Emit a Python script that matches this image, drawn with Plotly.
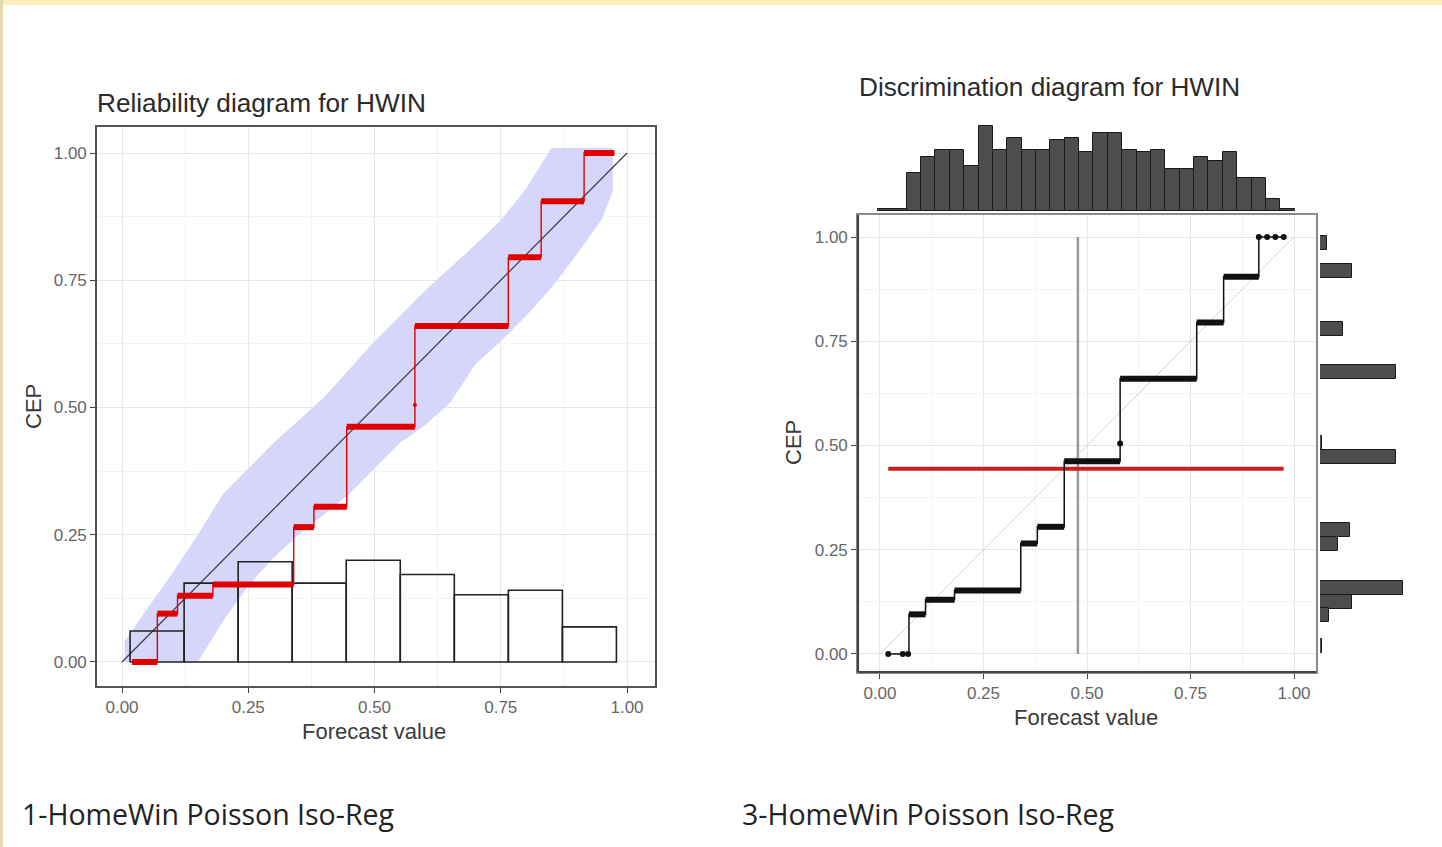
import plotly.graph_objects as go

W, H = 1442, 847

# ---------------- data ----------------
# isotonic-regression step function (forecast interval -> CEP)
step_start = [0.02, 0.07, 0.11, 0.18, 0.34, 0.38, 0.445, 0.58, 0.765, 0.83, 0.915]
step_end = [0.07, 0.11, 0.18, 0.34, 0.38, 0.445, 0.58, 0.765, 0.83, 0.915, 0.975]
step_cep = [0.0, 0.095, 0.13, 0.152, 0.265, 0.305, 0.462, 0.66, 0.795, 0.905, 1.0]
kink_x = [0.58]
kink_cep = [0.505]

# consistency band (left chart)
band_x = [0.005, 0.05, 0.10, 0.15, 0.20, 0.25, 0.30, 0.35, 0.40, 0.45, 0.50,
          0.55, 0.60, 0.65, 0.70, 0.75, 0.80, 0.85, 0.90, 0.95, 0.972]
band_upper = [0.04, 0.105, 0.175, 0.25, 0.33, 0.38, 0.43, 0.475, 0.52, 0.575, 0.63,
              0.68, 0.73, 0.775, 0.82, 0.868, 0.93, 1.01, 1.01, 1.01, 1.01]
band_lower = [0.0, 0.0, 0.0, 0.0, 0.08, 0.15, 0.205, 0.25, 0.29, 0.33, 0.38,
              0.43, 0.465, 0.51, 0.585, 0.63, 0.68, 0.735, 0.80, 0.87, 0.925]

# forecast histogram inside reliability diagram
rel_hist_centers = [0.0695, 0.1765, 0.2835, 0.3905, 0.4975, 0.6045, 0.7115, 0.8185, 0.9255]
rel_hist_width = 0.107
rel_hist_heights = [0.061, 0.155, 0.197, 0.155, 0.200, 0.172, 0.132, 0.141, 0.069]

identity = [0.0, 1.0]
base_rate = 0.444
mean_forecast = 0.478

# marginal histogram of forecasts (top)
top_hist_centers = [0.0125, 0.0472, 0.0819, 0.1166, 0.1513, 0.1860, 0.2207, 0.2554,
                    0.2901, 0.3248, 0.3595, 0.3942, 0.4289, 0.4636, 0.4983, 0.5330,
                    0.5677, 0.6024, 0.6371, 0.6718, 0.7065, 0.7412, 0.7759, 0.8106,
                    0.8453, 0.8800, 0.9147, 0.9494, 0.9841]
top_hist_width = 0.0347
top_hist_counts = [1, 1, 16, 23, 26, 26, 19, 36, 26, 31, 26, 26, 30, 31, 25,
                   33, 33, 26, 25, 26, 18, 18, 23, 21, 25, 14, 14, 5, 1]

# marginal histogram of CEP values (right)
right_hist_cep = [0.985, 0.918, 0.780, 0.676, 0.506, 0.472, 0.297, 0.264, 0.158, 0.125, 0.093, 0.020]
right_hist_counts = [3, 14, 10, 33, 1, 33, 13, 8, 36, 14, 4, 1]
right_hist_width = 0.034

# dots drawn individually in discrimination diagram
dots_zero_x = [0.02, 0.055, 0.068]
dots_one_x = [0.915, 0.935, 0.955, 0.975]

tick_vals = [0.0, 0.25, 0.5, 0.75, 1.0]
tick_text = ["0.00", "0.25", "0.50", "0.75", "1.00"]

# ---------------- build paths ----------------
thin_x, thin_y = [], []
for s, e, c in zip(step_start, step_end, step_cep):
    thin_x += [s, e]
    thin_y += [c, c]

thick_x, thick_y = [], []
for s, e, c in zip(step_start, step_end, step_cep):
    thick_x += [s, e, None]
    thick_y += [c, c, None]

mid_x, mid_y = [], []
for s, e, c in zip(step_start[1:-1], step_end[1:-1], step_cep[1:-1]):
    mid_x += [s, e, None]
    mid_y += [c, c, None]

# outline of histogram bars (drawn as lines so they sit above the band)
hist_x, hist_y = [], []
for c, h in zip(rel_hist_centers, rel_hist_heights):
    l, r = c - rel_hist_width / 2, c + rel_hist_width / 2
    hist_x += [l, l, r, r, l, None]
    hist_y += [0, h, h, 0, 0, None]

RED = "#E00000"
fig = go.Figure()

# ---- left: reliability diagram ----
fig.add_trace(go.Scatter(x=band_x + band_x[::-1], y=band_upper + band_lower[::-1],
                         fill="toself", fillcolor="rgb(214,214,250)", mode="none",
                         xaxis="x", yaxis="y", hoverinfo="skip"))
fig.add_trace(go.Scatter(x=identity, y=identity, mode="lines",
                         line=dict(color="#3a3a4a", width=1.2), xaxis="x", yaxis="y"))
fig.add_trace(go.Scatter(x=hist_x, y=hist_y, mode="lines",
                         line=dict(color="#222", width=1.6), xaxis="x", yaxis="y"))
fig.add_trace(go.Scatter(x=thin_x, y=thin_y, mode="lines",
                         line=dict(color=RED, width=1.4), xaxis="x", yaxis="y"))
fig.add_trace(go.Scatter(x=thick_x, y=thick_y, mode="lines",
                         line=dict(color=RED, width=6), xaxis="x", yaxis="y"))
fig.add_trace(go.Scatter(x=kink_x, y=kink_cep, mode="markers",
                         marker=dict(color=RED, size=4), xaxis="x", yaxis="y"))

# ---- right: discrimination diagram ----
fig.add_trace(go.Scatter(x=identity, y=identity, mode="lines",
                         line=dict(color="#d0d0d0", width=1), xaxis="x2", yaxis="y2"))
fig.add_trace(go.Scatter(x=[mean_forecast, mean_forecast], y=identity, mode="lines",
                         line=dict(color="#9a9a9a", width=2.5), xaxis="x2", yaxis="y2"))
fig.add_trace(go.Scatter(x=[step_start[0], step_end[-1]], y=[base_rate, base_rate], mode="lines",
                         line=dict(color="#C82020", width=4), xaxis="x2", yaxis="y2"))
fig.add_trace(go.Scatter(x=thin_x, y=thin_y, mode="lines",
                         line=dict(color="#111", width=1.5), xaxis="x2", yaxis="y2"))
fig.add_trace(go.Scatter(x=mid_x, y=mid_y, mode="lines",
                         line=dict(color="#111", width=6), xaxis="x2", yaxis="y2"))
fig.add_trace(go.Scatter(x=dots_zero_x + dots_one_x + kink_x,
                         y=[step_cep[0]] * len(dots_zero_x) + [step_cep[-1]] * len(dots_one_x) + kink_cep,
                         mode="markers", marker=dict(color="#111", size=6),
                         xaxis="x2", yaxis="y2"))

# marginals (own axes, no grid)
fig.add_trace(go.Bar(x=top_hist_centers, y=top_hist_counts, width=top_hist_width,
                     marker=dict(color="#4d4d4d", line=dict(color="#1a1a1a", width=1)),
                     xaxis="x4", yaxis="y3"))
fig.add_trace(go.Bar(y=right_hist_cep, x=right_hist_counts, width=right_hist_width,
                     orientation="h",
                     marker=dict(color="#4d4d4d", line=dict(color="#1a1a1a", width=1)),
                     xaxis="x3", yaxis="y4"))

FONT = "Liberation Sans, Arial, sans-serif"
tickfont = dict(family=FONT, size=17, color="#666")


def main_axis(domain, rng, anchor, line_color="#555"):
    return dict(domain=domain, range=rng, anchor=anchor, tickvals=tick_vals, ticktext=tick_text,
                ticks="outside", ticklen=5, tickcolor="#444", tickwidth=1.2,
                showline=True, linecolor=line_color, linewidth=1.6, mirror=True,
                showgrid=True, gridcolor="#E6E6E6", gridwidth=1.2, zeroline=False,
                minor=dict(dtick=0.125, tick0=0, showgrid=True, gridcolor="#F3F3F3", gridwidth=1),
                tickfont=tickfont, fixedrange=True)


def hidden_axis(domain, rng, anchor):
    return dict(domain=domain, range=rng, anchor=anchor, visible=False, showgrid=False,
                zeroline=False, fixedrange=True)


x2_dom, x2_rng = [858 / W, 1316 / W], [-0.0531, 1.0531]
y2_dom, y2_rng = [1 - 672 / H, 1 - 215 / H], [-0.0432, 1.0528]

fig.update_layout(
    width=W, height=H, autosize=False,
    margin=dict(l=0, r=0, t=0, b=0),
    paper_bgcolor="white", plot_bgcolor="white",
    showlegend=False, barmode="overlay", bargap=0,
    xaxis=main_axis([97 / W, 655 / W], [-0.0495, 1.0554], "y"),
    yaxis=main_axis([1 - 686 / H, 1 - 127 / H], [-0.0472, 1.0511], "x"),
    xaxis2=main_axis(x2_dom, x2_rng, "y2", "#8a8a8a"),
    yaxis2=main_axis(y2_dom, y2_rng, "x2", "#8a8a8a"),
    xaxis3=hidden_axis([1320 / W, 1420 / W], [0, 43.4], "y4"),
    yaxis3=hidden_axis([1 - 211 / H, 1 - 111 / H], [0, 42.35], "x4"),
    xaxis4=hidden_axis(x2_dom, x2_rng, "y3"),
    yaxis4=hidden_axis(y2_dom, y2_rng, "x3"),
)

shapes = [
    dict(type="rect", xref="paper", yref="paper", x0=0, x1=1, y0=1 - 5 / H, y1=1,
         fillcolor="#FFEDBA", line=dict(width=0), layer="above"),
    dict(type="rect", xref="paper", yref="paper", x0=0, x1=3 / W, y0=0, y1=1,
         fillcolor="#E6D9AE", line=dict(width=0), layer="above"),
    # darker left & bottom axis lines on the discrimination panel
    dict(type="line", xref="paper", yref="paper", x0=858 / W, x1=858 / W,
         y0=1 - 672 / H, y1=1 - 215 / H, line=dict(color="#444", width=2.2)),
    dict(type="line", xref="paper", yref="paper", x0=858 / W, x1=1316 / W,
         y0=1 - 672 / H, y1=1 - 672 / H, line=dict(color="#444", width=2.2)),
]
fig.update_layout(shapes=shapes)

ann = []


def text(t, x, y, size, color="#2a2a2a", anchor="center", angle=0, family=FONT):
    ann.append(dict(text=t, x=x / W, y=1 - y / H, xref="paper", yref="paper", showarrow=False,
                    xanchor=anchor, yanchor="middle", textangle=angle,
                    font=dict(family=family, size=size, color=color)))


text("Reliability diagram for HWIN", 95, 103, 26.2, anchor="left")
text("Discrimination diagram for HWIN", 857, 87, 26.2, anchor="left")
text("Forecast value", 374, 731, 22, color="#3a3a3a")
text("Forecast value", 1086, 717, 22, color="#3a3a3a")
text("CEP", 33, 407, 22, color="#3a3a3a", angle=-90)
text("CEP", 793, 443, 22, color="#3a3a3a", angle=-90)
text("1-HomeWin Poisson Iso-Reg", 20, 814, 28.5, color="#222", anchor="left", family="Open Sans, sans-serif")
text("3-HomeWin Poisson Iso-Reg", 740, 814, 28.5, color="#222", anchor="left", family="Open Sans, sans-serif")
fig.update_layout(annotations=ann)

fig.write_html("out.html", config={"displayModeBar": False},
               post_script="document.body.style.margin='0px';document.body.style.overflow='hidden';")
